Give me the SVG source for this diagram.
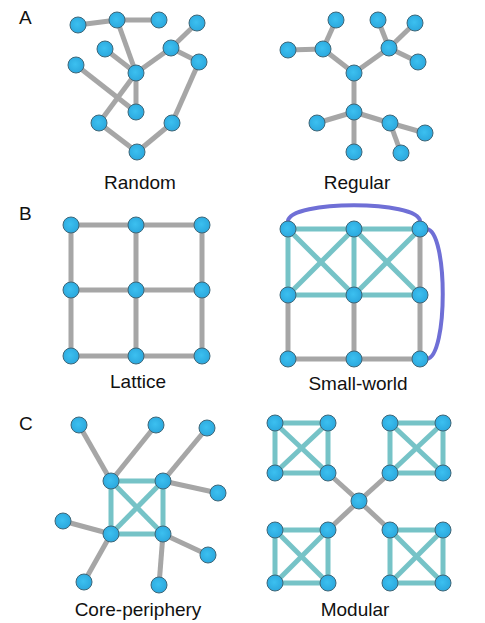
<svg xmlns="http://www.w3.org/2000/svg" width="485" height="623" viewBox="0 0 485 623">
<defs>
<radialGradient id="ng" cx="0.45" cy="0.45" r="0.6">
<stop offset="0" stop-color="#3cc0f0"/>
<stop offset="1" stop-color="#2aa6dc"/>
</radialGradient>
</defs>
<style>
.g{stroke:#a6a6a6;stroke-width:5;fill:none;stroke-linecap:butt}
.t{stroke:#76c3c7;stroke-width:5;fill:none}
.p{stroke:#6f6fd6;stroke-width:4;fill:none;stroke-linecap:round}
.n circle{fill:url(#ng);stroke:#3f6677;stroke-width:1}
text{font-family:"Liberation Sans",Arial,sans-serif;font-size:19px;fill:#111}
.c{text-anchor:middle}
</style>
<rect width="485" height="623" fill="#fff"/>
<g id="letters">
<text x="19" y="24">A</text>
<text x="19" y="220">B</text>
<text x="19" y="430">C</text>
</g>
<g id="connectors">
<!-- Random -->
<g class="g">
<line x1="78" y1="25" x2="117" y2="20"/>
<line x1="117" y1="20" x2="159" y2="20"/>
<line x1="117" y1="20" x2="136" y2="73"/>
<line x1="105" y1="49" x2="136" y2="73"/>
<line x1="136" y1="73" x2="171" y2="48"/>
<line x1="171" y1="48" x2="197" y2="23"/>
<line x1="171" y1="48" x2="199" y2="62"/>
<line x1="199" y1="62" x2="172" y2="123"/>
<line x1="76" y1="65" x2="136" y2="112"/>
<line x1="136" y1="73" x2="136" y2="112"/>
<line x1="136" y1="73" x2="99" y2="123"/>
<line x1="99" y1="123" x2="137" y2="152"/>
<line x1="137" y1="152" x2="172" y2="123"/>
</g>
<!-- Regular -->
<g class="g">
<line x1="336" y1="20" x2="323" y2="49"/>
<line x1="288" y1="50" x2="323" y2="49"/>
<line x1="323" y1="49" x2="354" y2="73"/>
<line x1="354" y1="73" x2="389" y2="48"/>
<line x1="389" y1="48" x2="378" y2="20"/>
<line x1="389" y1="48" x2="415" y2="23"/>
<line x1="389" y1="48" x2="418" y2="62"/>
<line x1="354" y1="73" x2="354" y2="112"/>
<line x1="354" y1="112" x2="317" y2="123"/>
<line x1="354" y1="112" x2="354" y2="152"/>
<line x1="354" y1="112" x2="390" y2="123"/>
<line x1="390" y1="123" x2="425" y2="133"/>
<line x1="390" y1="123" x2="401" y2="153"/>
</g>
<!-- Lattice -->
<g class="g">
<line x1="71" y1="225" x2="202" y2="225"/>
<line x1="71" y1="290" x2="202" y2="290"/>
<line x1="71" y1="356" x2="202" y2="356"/>
<line x1="71" y1="225" x2="71" y2="356"/>
<line x1="136" y1="225" x2="136" y2="356"/>
<line x1="202" y1="225" x2="202" y2="356"/>
</g>
<!-- Small-world -->
<g class="g">
<line x1="288" y1="295" x2="288" y2="359"/>
<line x1="354" y1="295" x2="354" y2="359"/>
<line x1="420" y1="229" x2="420" y2="359"/>
<line x1="288" y1="359" x2="420" y2="359"/>
</g>
<g class="t">
<line x1="288" y1="229" x2="420" y2="229"/>
<line x1="288" y1="295" x2="420" y2="295"/>
<line x1="288" y1="229" x2="288" y2="295"/>
<line x1="354" y1="229" x2="354" y2="295"/>
<line x1="288" y1="229" x2="354" y2="295"/>
<line x1="354" y1="229" x2="288" y2="295"/>
<line x1="354" y1="229" x2="420" y2="295"/>
<line x1="420" y1="229" x2="354" y2="295"/>
</g>
<g class="p">
<path d="M288,221 C290,200 418,200 420,221"/>
<path d="M427,229 C448,232 448,356 427,359"/>
</g>
<!-- Core-periphery -->
<g class="g">
<line x1="79" y1="425" x2="111" y2="481"/>
<line x1="156" y1="425" x2="111" y2="481"/>
<line x1="207" y1="428" x2="163" y2="481"/>
<line x1="218" y1="493" x2="163" y2="481"/>
<line x1="63" y1="521" x2="111" y2="534"/>
<line x1="84" y1="582" x2="111" y2="534"/>
<line x1="208" y1="555" x2="163" y2="534"/>
<line x1="159" y1="585" x2="163" y2="534"/>
</g>
<g class="t">
<rect x="111" y="481" width="52" height="53"/>
<line x1="111" y1="481" x2="163" y2="534"/>
<line x1="163" y1="481" x2="111" y2="534"/>
</g>
<!-- Modular -->
<g class="g">
<line x1="359" y1="501" x2="328" y2="473"/>
<line x1="359" y1="501" x2="390" y2="473"/>
<line x1="359" y1="501" x2="328" y2="530"/>
<line x1="359" y1="501" x2="390" y2="530"/>
</g>
<g class="t">
<rect x="275" y="423" width="53" height="50"/>
<line x1="275" y1="423" x2="328" y2="473"/>
<line x1="328" y1="423" x2="275" y2="473"/>
<rect x="390" y="423" width="53" height="50"/>
<line x1="390" y1="423" x2="443" y2="473"/>
<line x1="443" y1="423" x2="390" y2="473"/>
<rect x="275" y="530" width="53" height="53"/>
<line x1="275" y1="530" x2="328" y2="583"/>
<line x1="328" y1="530" x2="275" y2="583"/>
<rect x="390" y="530" width="53" height="53"/>
<line x1="390" y1="530" x2="443" y2="583"/>
<line x1="443" y1="530" x2="390" y2="583"/>
</g>
</g>
<g id="random" class="n">
<circle cx="78" cy="25" r="8"/><circle cx="117" cy="20" r="8"/><circle cx="159" cy="20" r="8"/><circle cx="197" cy="23" r="8"/>
<circle cx="105" cy="49" r="8"/><circle cx="171" cy="48" r="8"/><circle cx="76" cy="65" r="8"/><circle cx="199" cy="62" r="8"/>
<circle cx="136" cy="73" r="8"/><circle cx="136" cy="112" r="8"/><circle cx="99" cy="123" r="8"/><circle cx="172" cy="123" r="8"/>
<circle cx="137" cy="152" r="8"/>
<text class="c" x="140" y="189">Random</text>
</g>
<g id="regular" class="n">
<circle cx="336" cy="20" r="8"/><circle cx="378" cy="20" r="8"/><circle cx="415" cy="23" r="8"/><circle cx="288" cy="50" r="8"/>
<circle cx="323" cy="49" r="8"/><circle cx="389" cy="48" r="8"/><circle cx="418" cy="62" r="8"/><circle cx="354" cy="73" r="8"/>
<circle cx="354" cy="112" r="8"/><circle cx="317" cy="123" r="8"/><circle cx="390" cy="123" r="8"/><circle cx="425" cy="133" r="8"/>
<circle cx="354" cy="152" r="8"/><circle cx="401" cy="153" r="8"/>
<text class="c" x="357" y="189">Regular</text>
</g>
<g id="lattice" class="n">
<circle cx="71" cy="225" r="8"/><circle cx="136" cy="225" r="8"/><circle cx="202" cy="225" r="8"/>
<circle cx="71" cy="290" r="8"/><circle cx="136" cy="290" r="8"/><circle cx="202" cy="290" r="8"/>
<circle cx="71" cy="356" r="8"/><circle cx="136" cy="356" r="8"/><circle cx="202" cy="356" r="8"/>
<text class="c" x="138" y="388">Lattice</text>
</g>
<g id="smallworld" class="n">
<circle cx="288" cy="229" r="8"/><circle cx="354" cy="229" r="8"/><circle cx="420" cy="229" r="8"/>
<circle cx="288" cy="295" r="8"/><circle cx="354" cy="295" r="8"/><circle cx="420" cy="295" r="8"/>
<circle cx="288" cy="359" r="8"/><circle cx="354" cy="359" r="8"/><circle cx="420" cy="359" r="8"/>
<text class="c" x="358" y="390">Small-world</text>
</g>
<g id="coreperiphery" class="n">
<circle cx="111" cy="481" r="8"/><circle cx="163" cy="481" r="8"/><circle cx="111" cy="534" r="8"/><circle cx="163" cy="534" r="8"/>
<circle cx="79" cy="425" r="8"/><circle cx="156" cy="425" r="8"/><circle cx="207" cy="428" r="8"/><circle cx="218" cy="493" r="8"/>
<circle cx="63" cy="521" r="8"/><circle cx="208" cy="555" r="8"/><circle cx="84" cy="582" r="8"/><circle cx="159" cy="585" r="8"/>
<text class="c" x="138" y="616">Core-periphery</text>
</g>
<g id="modular" class="n">
<circle cx="275" cy="423" r="8"/><circle cx="328" cy="423" r="8"/><circle cx="275" cy="473" r="8"/><circle cx="328" cy="473" r="8"/>
<circle cx="390" cy="423" r="8"/><circle cx="443" cy="423" r="8"/><circle cx="390" cy="473" r="8"/><circle cx="443" cy="473" r="8"/>
<circle cx="359" cy="501" r="8"/>
<circle cx="275" cy="530" r="8"/><circle cx="328" cy="530" r="8"/><circle cx="275" cy="583" r="8"/><circle cx="328" cy="583" r="8"/>
<circle cx="390" cy="530" r="8"/><circle cx="443" cy="530" r="8"/><circle cx="390" cy="583" r="8"/><circle cx="443" cy="583" r="8"/>
<text class="c" x="355" y="616">Modular</text>
</g>
</svg>
